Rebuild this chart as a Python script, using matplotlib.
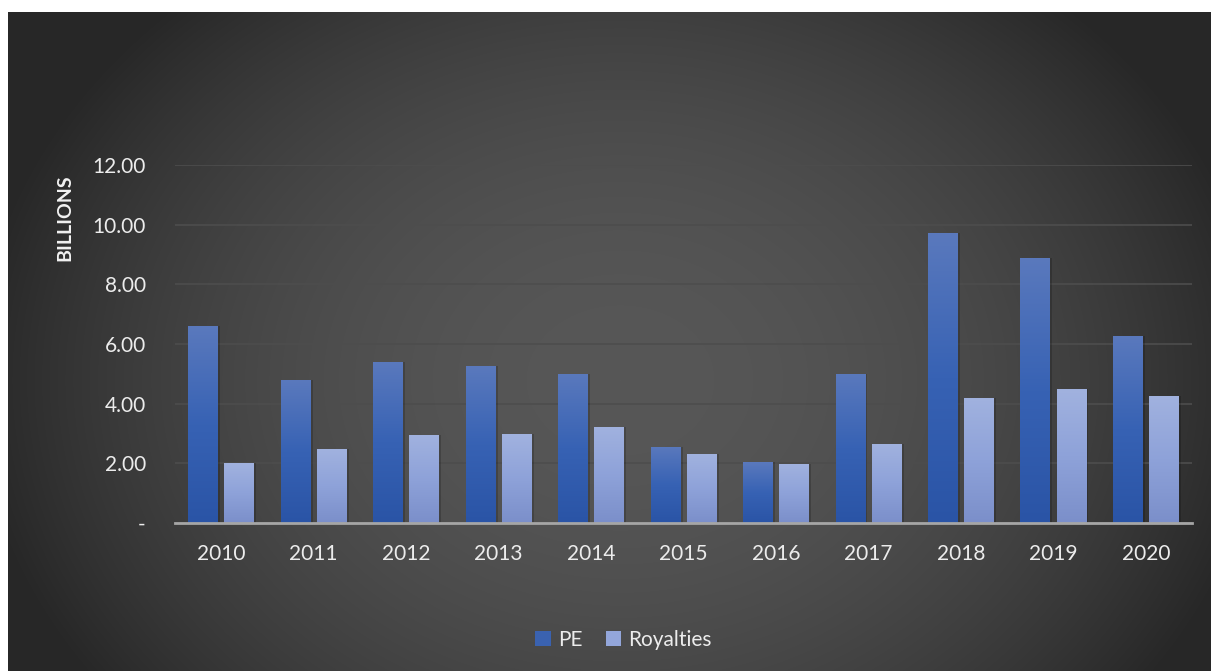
import numpy as np
import matplotlib
matplotlib.use("Agg")
import matplotlib.pyplot as plt
from matplotlib.colors import LinearSegmentedColormap
from matplotlib.patches import Patch
from matplotlib.ticker import FuncFormatter

# data (billions)
years = ["2010", "2011", "2012", "2013", "2014", "2015", "2016", "2017", "2018", "2019", "2020"]
pe = [6.60, 4.79, 5.40, 5.26, 5.00, 2.55, 2.04, 5.00, 9.72, 8.88, 6.27]
royalties = [2.01, 2.48, 2.95, 2.98, 3.22, 2.31, 1.98, 2.65, 4.19, 4.49, 4.26]

plt.rcParams["font.family"] = ["Lato", "DejaVu Sans"]

W, H = 1211, 671
fig = plt.figure(figsize=(W / 100, H / 100), dpi=100)
fig.patch.set_facecolor("white")

# dark radial background of the chart area (pixel grid of the panel)
bg = fig.add_axes([8 / W, 0, 1 - 8 / W, 1 - 12 / H])
bg.set_axis_off()
py, px = np.mgrid[12:H, 8:W]
g = ((px - 620) / 650.0) ** 2 + ((py - 380) / 520.0) ** 2
g = np.clip(g, 0, 1)
c_in, c_out = np.array([0x57, 0x57, 0x57]) / 255, np.array([0x27, 0x27, 0x27]) / 255
img = c_in[None, None, :] * (1 - g[..., None]) + c_out[None, None, :] * g[..., None]
bg.imshow(img, extent=[0, 1, 0, 1], aspect="auto", origin="upper")
bg.set_xlim(0, 1)
bg.set_ylim(0, 1)

ax = fig.add_axes([175 / W, 1 - 523 / H, (1192 - 175) / W, (523 - 165) / H])
ax.patch.set_alpha(0)

x = np.arange(len(years))
w = 0.32
off = 0.195

pe_cmap = LinearSegmentedColormap.from_list("pe", ["#2a54a6", "#3762b4", "#5a79bd"])
ro_cmap = LinearSegmentedColormap.from_list("ro", ["#7b8fca", "#8ea2d9", "#a1b2df"])
grad = np.linspace(0, 1, 256).reshape(-1, 1)


def gradient_bars(xpos, vals, cmap):
    # soft shadow first, then the bar filled with a vertical gradient
    ax.bar(xpos + 0.025, vals, w, color="black", alpha=0.18, zorder=2)
    bars = ax.bar(xpos, vals, w, color="none", zorder=3)
    for b in bars:
        x0, bw, h = b.get_x(), b.get_width(), b.get_height()
        im = ax.imshow(grad, extent=[x0, x0 + bw, 0, h], origin="lower",
                       cmap=cmap, aspect="auto", zorder=3)
        im.set_clip_path(b)


gradient_bars(x - off, pe, pe_cmap)
gradient_bars(x + off, royalties, ro_cmap)

ax.set_xlim(-0.5, len(years) - 0.5)
ax.set_ylim(0, 12)
ax.set_yticks(np.arange(0, 13, 2))
ax.yaxis.set_major_formatter(FuncFormatter(lambda v, p: "-" if v == 0 else f"{v:.2f}"))
ax.set_xticks(x)
ax.set_xticklabels(years)
ax.grid(axis="y", color="#4d4d4d", linewidth=1.2, zorder=0)
ax.set_axisbelow(True)
for s in ["top", "right", "left"]:
    ax.spines[s].set_visible(False)
ax.spines["bottom"].set_color("#a6a6a6")
ax.spines["bottom"].set_linewidth(2)
ax.spines["bottom"].set_zorder(5)
ax.tick_params(axis="both", length=0, colors="#ececec", labelsize=15)
ax.tick_params(axis="y", pad=21)
ax.tick_params(axis="x", pad=15)

ax.set_ylabel("BILLIONS", color="#f2f2f2", fontsize=14, fontweight="bold")
ax.yaxis.set_label_coords(-0.100, 0.852)

handles = [Patch(facecolor="#3a62b0", label="PE"), Patch(facecolor="#93a6da", label="Royalties")]
fig.legend(handles=handles, loc="center", bbox_to_anchor=(0.515, 1 - 640 / H), ncol=2,
           frameon=False, fontsize=15, labelcolor="#ececec", handlelength=0.75,
           handleheight=0.75, handletextpad=0.35, columnspacing=1.1)

fig.savefig("out.png", dpi=100, facecolor="white")
